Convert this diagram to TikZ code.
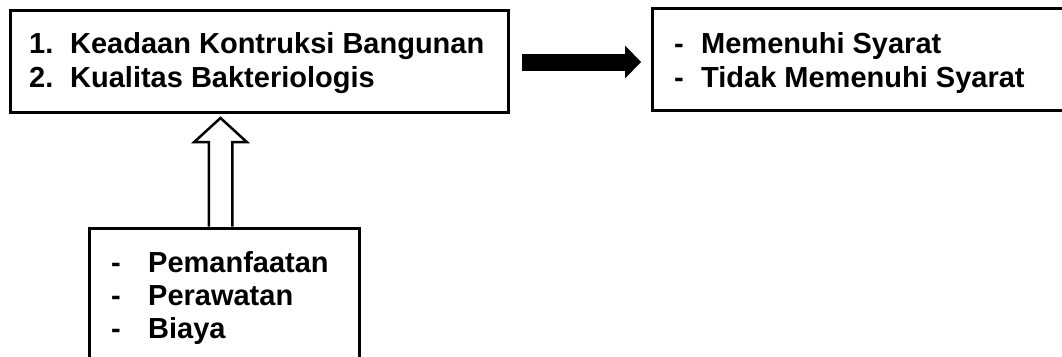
\documentclass[tikz,border=0pt]{standalone}
\usepackage{fontspec}
\setmainfont{Liberation Sans}
\usepackage{tikz}
\usetikzlibrary{positioning}
\usetikzlibrary{arrows.meta}
\usetikzlibrary{calc}
\tikzstyle{kotak}=[draw,line width=3pt,inner sep=0pt]
\tikzstyle{teks}=[font=\fontsize{29}{34}\selectfont\bfseries,inner sep=0pt,anchor=base west]
\tikzstyle{panahhitam} = [draw,line width=17pt,-{Triangle[length=16pt,width=33pt,line width=0pt]}]
\tikzstyle{panahputih} = [draw,line width=2.5pt,line join=miter,fill=white]
\begin{document}
\begin{tikzpicture}[x=1pt,y=-1pt]
  \useasboundingbox (0,0) rectangle (1062,356);

  \node[kotak,minimum width=498pt,minimum height=102pt] (kondisi) at (259,61) {};
  \node[kotak,minimum width=428pt,minimum height=102pt] (hasil) at (866,59) {};
  \node[kotak,minimum width=270pt,minimum height=144pt] (faktor) at (224,300) {};

    \foreach \y/\nama/\isi in {53/k1/{\makebox[41pt][l]{1.}Keadaan Kontruksi Bangunan}, 87/k2/{\makebox[41pt][l]{2.}Kualitas Bakteriologis}}
        \node[teks] (\nama) at (29,\y) {\isi};

    \foreach \y/\nama/\isi in {53/h1/{Memenuhi Syarat}, 87/h2/{Tidak Memenuhi Syarat}}
        \node[teks] (\nama) at (674,\y) {\makebox[27pt][l]{-}\isi};

    \foreach \y/\nama/\isi in {272/f1/{Pemanfaatan}, 305/f2/{Perawatan}, 338/f3/{Biaya}}
        \node[teks] (\nama) at (111,\y) {\makebox[37pt][l]{-}\isi};

  \path[panahhitam,shorten <=12.5pt,shorten >=9.5pt] ([yshift=-1pt]kondisi.east) -- ([yshift=-1pt]kondisi.east -| hasil.west);

  \coordinate (kaki) at ([xshift=-3.5pt]faktor.north);
  \coordinate (ujung) at ($(kaki |- kondisi.south)+(0,4.5)$);
  \path[panahputih] ($(kaki)+(-11.75,0)$) -- ($(ujung)+(-11.75,24)$) -- ($(ujung)+(-26.25,24)$) -- (ujung)
        -- ($(ujung)+(26.25,24)$) -- ($(ujung)+(11.75,24)$) -- ($(kaki)+(11.75,0)$);

\end{tikzpicture}
\end{document}
